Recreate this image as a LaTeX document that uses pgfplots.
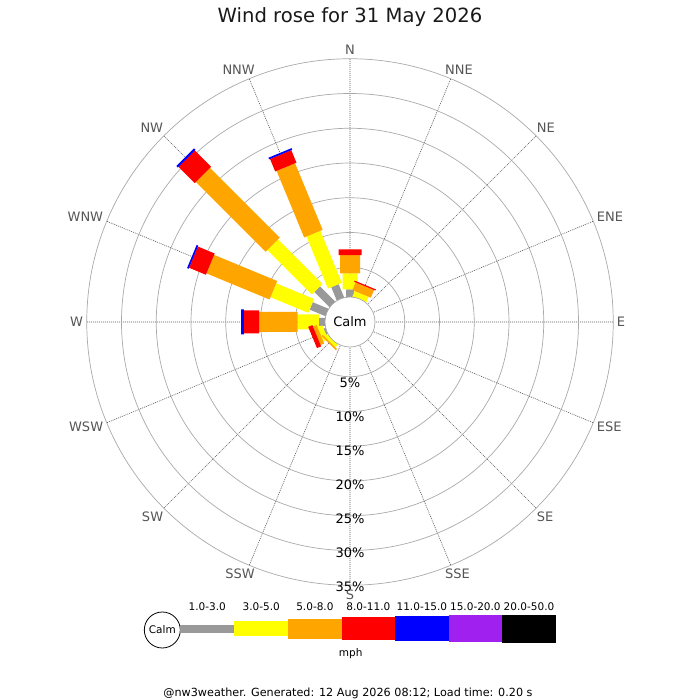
\documentclass[border=0pt]{standalone}
\usepackage{pgfplots}
\pgfplotsset{compat=1.18}
\usepgfplotslibrary{polar}
\usepackage{pgfplotstable}
\usepackage{fontspec}
\setmainfont{DejaVu Sans}
\definecolor{cgray}{HTML}{999999}
\definecolor{cyellow}{HTML}{FFFF00}
\definecolor{corange}{HTML}{FFA500}
\definecolor{cred}{HTML}{FF0000}
\definecolor{cblue}{HTML}{0000FF}
\definecolor{cpurple}{HTML}{A020F0}
\definecolor{ringgray}{HTML}{AAAAAA}
\definecolor{labgray}{HTML}{555555}

% angle (math degrees: E=0, N=90), cumulative percentage; nan separates bars
\pgfplotstableread{
a p
90 0
90 1.8
nan nan
67.5 0
67.5 0.6
nan nan
202.5 0
202.5 1.0
nan nan
225 0
225 0.5
nan nan
180 0
180 1.6
nan nan
157.5 0
157.5 3.17
nan nan
135 0
135 3.8
nan nan
112.5 0
112.5 2.78
}\graydata

\pgfplotstableread{
a p
90 1.8
90 4.13
nan nan
67.5 0.6
67.5 1.5
nan nan
202.5 1.0
202.5 1.73
nan nan
225 0.5
225 1.2
nan nan
180 1.6
180 4.65
nan nan
157.5 3.17
157.5 9.06
nan nan
135 3.8
135 12.86
nan nan
112.5 2.78
112.5 10.88
}\yellowdata

\pgfplotstableread{
a p
90 4.13
90 6.76
nan nan
67.5 1.5
67.5 2.7
nan nan
202.5 1.73
202.5 2.3
nan nan
225 1.2
225 1.44
nan nan
180 4.65
180 10.2
nan nan
157.5 9.06
157.5 18.88
nan nan
135 12.86
135 27.05
nan nan
112.5 10.88
112.5 21.25
}\orangedata

\pgfplotstableread{
a p
90 6.76
90 7.58
nan nan
67.5 2.7
67.5 2.88
nan nan
202.5 2.3
202.5 2.95
nan nan
180 10.2
180 12.4
nan nan
157.5 18.88
157.5 21.5
nan nan
135 27.05
135 30.35
nan nan
112.5 21.25
112.5 23.2
}\reddata

\pgfplotstableread{
a p
180 12.4
180 12.8
nan nan
157.5 21.5
157.5 21.75
nan nan
135 30.35
135 30.65
nan nan
112.5 23.2
112.5 23.45
}\bluedata

\begin{document}
\begin{tikzpicture}
\useasboundingbox (0,0) rectangle (700bp,700bp);
\fill[white] (0,0) rectangle (700bp,700bp);
\begin{polaraxis}[
  at={(350bp,378bp)}, anchor=center,
  width=526.5bp, height=526.5bp, scale only axis,
  ymin=0, ymax=37.878,
  xtick={0,22.5,...,337.5},
  ytick={7.878,12.878,17.878,22.878,27.878,32.878,37.878},
  xticklabels={}, yticklabels={},
  major tick length=0pt,
  grid=major,
  x grid style={black!65, line width=0.6bp, dash pattern=on 1bp off 1bp},
  y grid style={ringgray, line width=0.7bp},
  axis line style={draw=none},
  clip=false,
  unbounded coords=jump,
  every axis plot/.append style={no markers, line cap=butt},
]
\addplot[draw=cgray, line width=8bp] table[x=a, y expr=\thisrow{p}+2.878] {\graydata};
\addplot[draw=cyellow, line width=15bp] table[x=a, y expr=\thisrow{p}+2.878] {\yellowdata};
\addplot[draw=corange, line width=20bp] table[x=a, y expr=\thisrow{p}+2.878] {\orangedata};
\addplot[draw=cred, line width=23bp] table[x=a, y expr=\thisrow{p}+2.878] {\reddata};
\addplot[draw=cblue, line width=25bp] table[x=a, y expr=\thisrow{p}+2.878] {\bluedata};

\draw[ringgray, fill=white, line width=0.7bp] (axis cs:0,0) circle[radius=25bp];
\node[font=\fontsize{13bp}{15bp}\selectfont] at (axis cs:0,0) {Calm};

\begin{scope}[every node/.style={font=\fontsize{13bp}{15bp}\selectfont, text=black}]
\node at (axis cs:270,8.78) {5\%};
\node at (axis cs:270,13.67) {10\%};
\node at (axis cs:270,18.56) {15\%};
\node at (axis cs:270,23.45) {20\%};
\node at (axis cs:270,28.35) {25\%};
\node at (axis cs:270,33.24) {30\%};
\node at (axis cs:270,38.13) {35\%};
\end{scope}
\end{polaraxis}

% compass labels (picture coordinates, 1bp = 1px, y from the bottom)
\begin{scope}[every node/.style={font=\fontsize{13bp}{15bp}\selectfont, text=labgray, inner sep=0pt}]
\node at (350bp,650bp) {N};
\node at (350bp,105bp) {S};
\node[anchor=west] at (445bp,630bp) {NNE};
\node[anchor=west] at (536.7bp,572.7bp) {NE};
\node[anchor=west] at (596.7bp,483.3bp) {ENE};
\node[anchor=west] at (616.7bp,378bp) {E};
\node[anchor=west] at (596.7bp,273.3bp) {ESE};
\node[anchor=west] at (536.7bp,183.3bp) {SE};
\node[anchor=west] at (445bp,126bp) {SSE};
\node[anchor=east] at (255bp,126bp) {SSW};
\node[anchor=east] at (163.3bp,183.3bp) {SW};
\node[anchor=east] at (103.3bp,273.3bp) {WSW};
\node[anchor=east] at (83.3bp,378bp) {W};
\node[anchor=east] at (103.3bp,483.3bp) {WNW};
\node[anchor=east] at (163.3bp,572.7bp) {NW};
\node[anchor=east] at (255bp,630bp) {NNW};
\end{scope}

% title
\node[font=\fontsize{19.6bp}{23bp}\selectfont, text=black!90] at (350bp,683bp) {Wind rose for 31 May 2026};

% legend
\draw[black, fill=white, line width=0.8bp] (162.3bp,70bp) circle[radius=18bp];
\node[font=\fontsize{10.5bp}{12bp}\selectfont] at (162.3bp,70bp) {Calm};
\fill[cgray]   (180bp,66.85bp) rectangle (234.3bp,75.15bp);
\fill[cyellow] (234.3bp,63.5bp) rectangle (288bp,78.5bp);
\fill[corange] (288bp,60.85bp) rectangle (341.7bp,81.15bp);
\fill[cred]    (341.7bp,59.5bp) rectangle (395bp,82.5bp);
\fill[cblue]   (395bp,58.5bp) rectangle (448.7bp,83.5bp);
\fill[cpurple] (448.7bp,57.5bp) rectangle (502bp,84.5bp);
\fill[black]   (502bp,56.85bp) rectangle (556bp,85.15bp);
\begin{scope}[every node/.style={font=\fontsize{10.5bp}{12bp}\selectfont}]
\node at (207.2bp,93.3bp) {1.0-3.0};
\node at (261.2bp,93.3bp) {3.0-5.0};
\node at (314.9bp,93.3bp) {5.0-8.0};
\node at (368.4bp,93.3bp) {8.0-11.0};
\node at (421.9bp,93.3bp) {11.0-15.0};
\node at (475.4bp,93.3bp) {15.0-20.0};
\node at (529bp,93.3bp) {20.0-50.0};
\node at (350.7bp,46.7bp) {mph};
\end{scope}
\node[font=\fontsize{11.2bp}{13bp}\selectfont] at (348bp,6.7bp) {@nw3weather. Generated: 12 Aug 2026 08:12; Load time: 0.20 s};
\end{tikzpicture}
\end{document}
